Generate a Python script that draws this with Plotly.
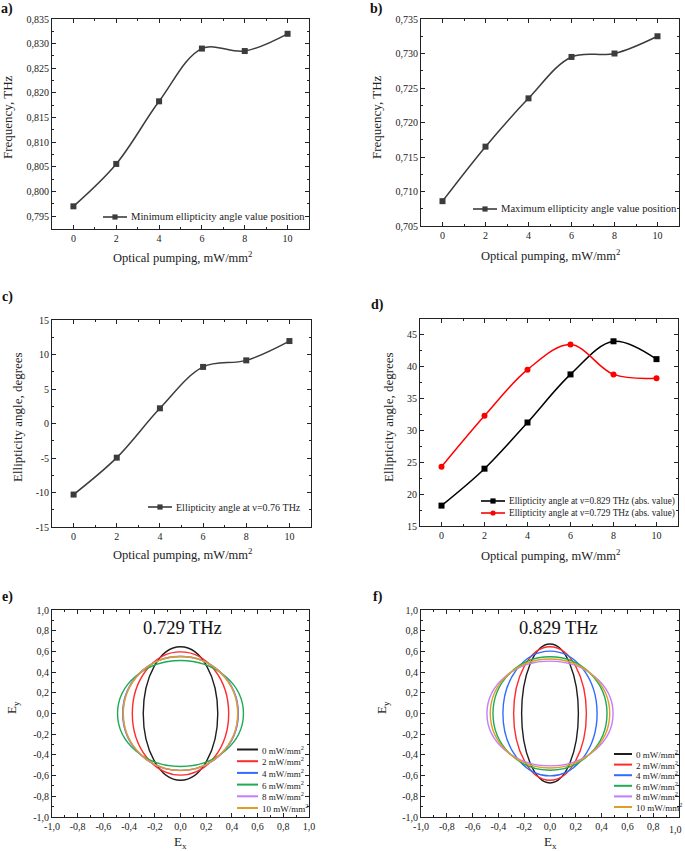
import plotly.graph_objects as go

W, H = 685, 851
FONT = "Liberation Serif"
INK = "#222222"

# optical pumping levels, mW/mm^2
pumping = [0, 2, 4, 6, 8, 10]

# a) minimum ellipticity angle position, THz
freq_min_pos = [0.797, 0.8056, 0.8183, 0.829, 0.8285, 0.832]
# b) maximum ellipticity angle position, THz
freq_max_pos = [0.7086, 0.7165, 0.7235, 0.7295, 0.730, 0.7325]
# c) ellipticity angle at 0.76 THz, degrees
angle_076 = [-10.3, -4.95, 2.2, 8.2, 9.15, 11.95]
# d) ellipticity angle (abs. value), degrees
angle_0829 = [18.2, 24.0, 31.25, 38.8, 44.0, 41.2]
angle_0729 = [24.3, 32.3, 39.55, 43.5, 38.8, 38.2]

# e), f) polarization ellipses: semi-axes for each pumping level
level_names = ["0 mW/mm<sup>2</sup>", "2 mW/mm<sup>2</sup>", "4 mW/mm<sup>2</sup>",
               "6 mW/mm<sup>2</sup>", "8 mW/mm<sup>2</sup>", "10 mW/mm<sup>2</sup>"]
level_colors = ["#1e1e1e", "#ff2b2b", "#2f6dff", "#1faa55", "#c27dff", "#dca024"]
e_ax = [0.29, 0.375, 0.45, 0.49, 0.447, 0.445]
e_ay = [0.645, 0.595, 0.55, 0.512, 0.552, 0.55]
f_ax = [0.22, 0.282, 0.365, 0.442, 0.489, 0.463]
f_ay = [0.671, 0.645, 0.603, 0.548, 0.506, 0.526]


def fx(p):
    return p / W


def fy(p):
    return 1 - p / H


# plot frames in pixels: left, right, top, bottom
boxes = {
    1: (52, 309, 19, 229),
    2: (421, 679, 19, 226),
    3: (52, 311, 320, 527),
    4: (420, 678, 319, 526),
    5: (52, 309, 610, 817),
    6: (421, 679, 610, 817),
}

fig = go.Figure()
shapes = []
notes = []


def line_trace(y, n, name, color, symbol):
    fig.add_trace(go.Scatter(
        x=pumping, y=y, name=name, mode="lines+markers", showlegend=False,
        line=dict(color=color, width=1.5, shape="spline", smoothing=1.0),
        marker=dict(symbol=symbol, size=6, color=color),
        xaxis=f"x{n}", yaxis=f"y{n}",
    ))


series = [
    (freq_min_pos, 1, "Minimum ellipticity angle value position", "#3c3c3c", "square"),
    (freq_max_pos, 2, "Maximum ellipticity angle value position", "#3c3c3c", "square"),
    (angle_076, 3, "Ellipticity angle at ν=0.76 THz", "#3c3c3c", "square"),
    (angle_0829, 4, "Ellipticity angle at ν=0.829 THz (abs. value)", "#000000", "square"),
    (angle_0729, 4, "Ellipticity angle at ν=0.729 THz (abs. value)", "#ff0000", "circle"),
]
for s in series:
    line_trace(*s)

# ellipses drawn as shapes in data coordinates
for n, axs, ays in [(5, e_ax, e_ay), (6, f_ax, f_ay)]:
    for color, a, b in zip(level_colors, axs, ays):
        shapes.append(dict(type="circle", xref=f"x{n}", yref=f"y{n}",
                           x0=-a, x1=a, y0=-b, y1=b,
                           line=dict(color=color, width=1.4), layer="above"))


# Origin-style legends inside each panel (key line + marker + label)
def legend_item(x_line, length, yc, color, text, size, symbol=None):
    shapes.append(dict(type="line", xref="paper", yref="paper",
                       x0=fx(x_line), x1=fx(x_line + length), y0=fy(yc), y1=fy(yc),
                       line=dict(color=color, width=1.6 if symbol else 2)))
    if symbol:
        m = x_line + length / 2
        shapes.append(dict(type="rect" if symbol == "square" else "circle",
                           xref="paper", yref="paper",
                           x0=fx(m - 2.6), x1=fx(m + 2.6), y0=fy(yc + 2.6), y1=fy(yc - 2.6),
                           fillcolor=color, line=dict(color=color, width=0)))
    notes.append(dict(x=fx(x_line + length + 2), y=fy(yc), text=text, xanchor="left",
                      font=dict(size=size)))


legend_at = [(103, 217, 10.6), (473, 209, 10.6), (148, 507, 10), (481, 501, 9.3), (481, 513, 9.3)]
for (x0, yc, size), s in zip(legend_at, series):
    legend_item(x0, 24, yc, s[3], s[2], size, s[4])

for i, (name, color) in enumerate(zip(level_names, level_colors)):
    legend_item(237, 21, 749.5 + i * 11.7, color, name, 9)
    legend_item(614, 18, 754 + i * 10.6, color, name, 9)


def comma(v, fmt):
    return format(v, fmt).replace(".", ",")


axis_base = dict(
    showline=True, linecolor=INK, linewidth=1, mirror="allticks",
    ticks="inside", ticklen=4, tickcolor=INK, tickwidth=1,
    tickfont=dict(family=FONT, size=10, color=INK), ticklabeloverflow="allow",
    showgrid=False, zeroline=False, fixedrange=True, automargin=False,
)

pump_ticks = [0, 2, 4, 6, 8, 10]
a_ticks = [0.795, 0.800, 0.805, 0.810, 0.815, 0.820, 0.825, 0.830, 0.835]
b_ticks = [0.705, 0.710, 0.715, 0.720, 0.725, 0.730, 0.735]
c_ticks = [-15, -10, -5, 0, 5, 10, 15]
d_ticks = [15, 20, 25, 30, 35, 40, 45]
e_ticks = [-1.0, -0.8, -0.6, -0.4, -0.2, 0.0, 0.2, 0.4, 0.6, 0.8, 1.0]

yspecs = {
    1: ([0.7924, 0.835], a_ticks, [comma(v, ".3f") for v in a_ticks], 0.0025),
    2: ([0.705, 0.735], b_ticks, [comma(v, ".3f") for v in b_ticks], 0.0025),
    3: ([-15, 15], c_ticks, [str(v) for v in c_ticks], 2.5),
    4: ([15, 47.5], d_ticks, [str(v) for v in d_ticks], 2.5),
    5: ([-1, 1], e_ticks, [comma(v, ".1f") for v in e_ticks], 0.1),
    6: ([-1, 1], e_ticks, [comma(v, ".1f") for v in e_ticks], 0.1),
}

layout = dict(
    width=W, height=H, margin=dict(l=0, r=0, t=0, b=0, autoexpand=False),
    paper_bgcolor="white", plot_bgcolor="white", showlegend=False,
    font=dict(family=FONT, color=INK), shapes=shapes,
)

for n, (l, r, t, b) in boxes.items():
    suffix = "" if n == 1 else str(n)
    if n <= 4:
        xs = dict(range=[-1, 11], tickvals=pump_ticks, ticktext=[str(v) for v in pump_ticks],
                  minor=dict(ticks="inside", ticklen=2, tickcolor=INK, dtick=1, tick0=0))
    else:
        labels = [comma(v, ".1f") for v in e_ticks]
        if n == 6:
            # the last label sits on the window edge and gets dropped; written as an annotation below
            labels[-1] = ""
        xs = dict(range=[-1, 1], tickvals=e_ticks, ticktext=labels,
                  minor=dict(ticks="inside", ticklen=2, tickcolor=INK, dtick=0.1, tick0=0))
    yr, yt, ytt, ym = yspecs[n]
    layout["xaxis" + suffix] = dict(axis_base, domain=[fx(l), fx(r)], anchor=f"y{n}", **xs)
    layout["yaxis" + suffix] = dict(axis_base, domain=[fy(b), fy(t)], anchor=f"x{n}",
                                    range=yr, tickvals=yt, ticktext=ytt,
                                    minor=dict(ticks="inside", ticklen=2, tickcolor=INK, dtick=ym, tick0=0))

fig.update_layout(**layout)

pump_title = "Optical pumping, mW/mm<sup>2</sup>"
# x axis titles
for x, y, text in [(183, 257, pump_title), (550, 255, pump_title),
                   (183, 554, pump_title), (550, 555, pump_title)]:
    notes.append(dict(x=fx(x), y=fy(y), text=text, font=dict(size=12.5)))
for x in (180, 550):
    notes.append(dict(x=fx(x), y=fy(842), text="E<sub>x</sub>", font=dict(size=13)))
# y axis titles
for x, y, text in [(8, 117, "Frequency, THz"), (377, 117, "Frequency, THz"),
                   (17, 417, "Ellipticity angle, degrees"), (388, 417, "Ellipticity angle, degrees"),
                   (12, 708, "E<sub>y</sub>"), (382, 708, "E<sub>y</sub>")]:
    notes.append(dict(x=fx(x), y=fy(y), text=text, textangle=-90, font=dict(size=13)))
# panel letters
for x, y, text in [(7, 9, "a)"), (376, 9, "b)"), (7, 297, "c)"),
                   (377, 305, "d)"), (7, 597, "e)"), (378, 597, "f)")]:
    notes.append(dict(x=fx(x), y=fy(y), text=f"<b>{text}</b>", font=dict(size=14, color="#111")))
# frequency captions inside e) and f)
notes.append(dict(x=fx(183), y=fy(628), text="0.729 THz", font=dict(size=18.5, color="#111")))
notes.append(dict(x=fx(558), y=fy(628), text="0.829 THz", font=dict(size=18.5, color="#111")))
# last tick label of f), right-aligned to the figure edge
notes.append(dict(x=fx(684), y=fy(829), text=comma(e_ticks[-1], ".1f"), xanchor="right",
                  font=dict(size=10)))

for a in notes:
    a.update(xref="paper", yref="paper", showarrow=False, yanchor="middle")
    a.setdefault("xanchor", "center")
    a["font"] = dict(family=FONT, color=a["font"].get("color", INK), size=a["font"]["size"])
fig.update_layout(annotations=notes)

# the page's default 8px body margin would push the figure off the window
fig.write_html("out.html", config={"displayModeBar": False},
               post_script="document.body.style.margin='0px';")
